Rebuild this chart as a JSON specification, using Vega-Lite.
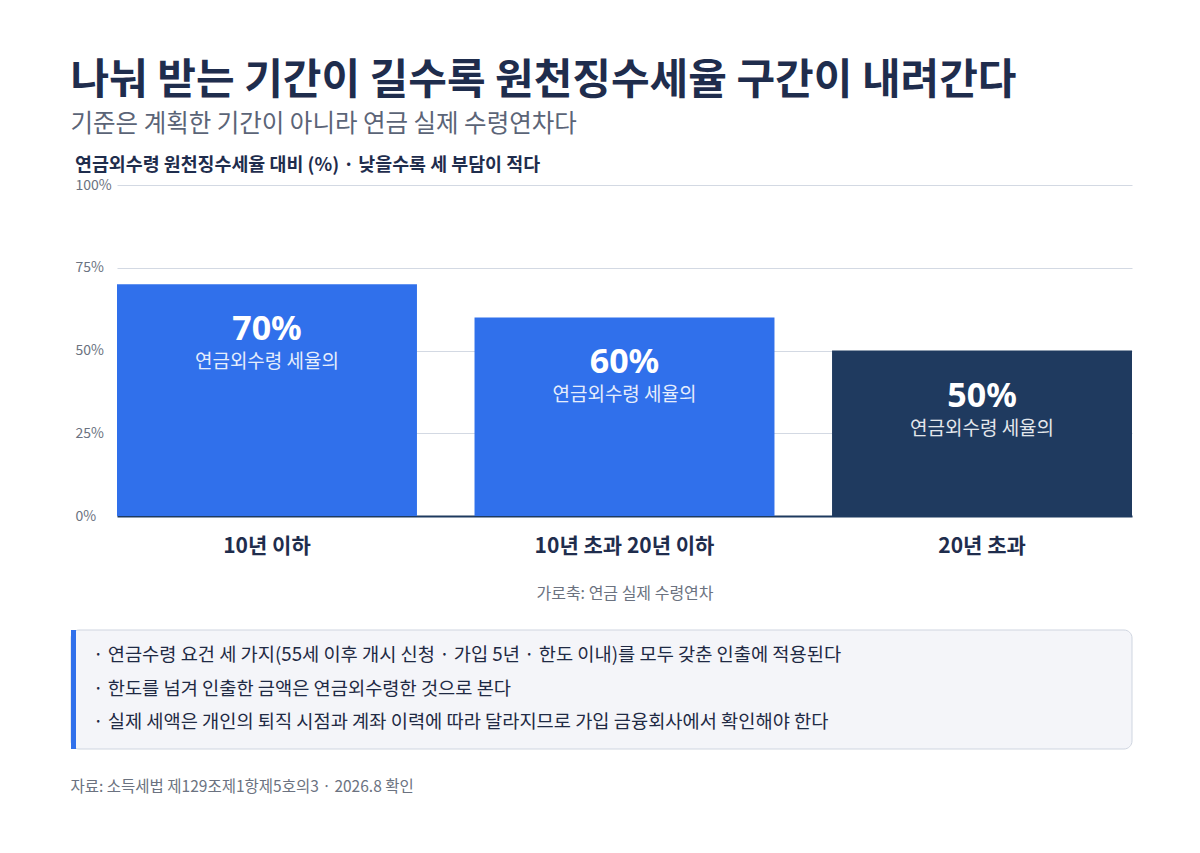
{
  "$schema": "https://vega.github.io/schema/vega-lite/v6.json",
  "background": "white",
  "padding": {"left": 70, "top": 60, "right": 69, "bottom": 10},
  "config": {
    "font": "Noto Sans CJK KR",
    "view": {"stroke": null}
  },
  "title": {
    "text": "나눠 받는 기간이 길수록 원천징수세율 구간이 내려간다",
    "subtitle": "기준은 계획한 기간이 아니라 연금 실제 수령연차다",
    "anchor": "start",
    "frame": "bounds",
    "fontSize": 42,
    "fontWeight": "bold",
    "color": "#1f2d4d",
    "subtitleFont": "Noto Sans CJK KR",
    "subtitleFontSize": 24.5,
    "subtitleColor": "#5b6477",
    "subtitlePadding": 10,
    "offset": 18
  },
  "columns": 1,
  "spacing": 26,
  "concat": [
    {
      "width": 1015,
      "height": 331,
      "title": {
        "text": "연금외수령 원천징수세율 대비 (%) · 낮을수록 세 부담이 적다",
        "anchor": "start",
        "frame": "bounds",
        "fontSize": 18.4,
        "fontWeight": "bold",
        "color": "#1f2d4d",
        "offset": 4
      },
      "data": {
        "values": [
          {"period": "10년 이하", "rate": 70, "label": "70%", "sub": "연금외수령 세율의", "tone": "기본"},
          {"period": "10년 초과 20년 이하", "rate": 60, "label": "60%", "sub": "연금외수령 세율의", "tone": "기본"},
          {"period": "20년 초과", "rate": 50, "label": "50%", "sub": "연금외수령 세율의", "tone": "강조"}
        ]
      },
      "encoding": {
        "x": {
          "field": "period",
          "type": "nominal",
          "sort": null,
          "scale": {"paddingInner": 0.161, "paddingOuter": 0},
          "axis": {
            "title": "가로축: 연금 실제 수령연차",
            "labelAngle": 0,
            "labelFontSize": 21,
            "labelFontWeight": "bold",
            "labelColor": "#1f2d4d",
            "labelPadding": 19,
            "ticks": false,
            "domainColor": "#1e3a5f",
            "domainWidth": 2,
            "titleFontSize": 16,
            "titleFontWeight": "normal",
            "titleColor": "#6b7280",
            "titlePadding": 29
          }
        },
        "y": {
          "field": "rate",
          "type": "quantitative",
          "scale": {"domain": [0, 100]},
          "axis": {
            "title": null,
            "values": [0, 25, 50, 75, 100],
            "labelExpr": "datum.value + '%'",
            "labelAlign": "left",
            "labelPadding": 42,
            "labelFontSize": 14,
            "labelColor": "#6b7280",
            "ticks": false,
            "domain": false,
            "gridColor": "#d3d9e3"
          }
        }
      },
      "layer": [
        {
          "mark": {"type": "bar"},
          "encoding": {
            "color": {
              "field": "tone",
              "type": "nominal",
              "scale": {"domain": ["기본", "강조"], "range": ["#3070eb", "#1f3a5f"]},
              "legend": null
            }
          }
        },
        {
          "mark": {"type": "text", "dy": 46, "font": "Noto Sans", "fontSize": 34, "fontWeight": "bold", "color": "#ffffff", "baseline": "middle"},
          "encoding": {"text": {"field": "label"}}
        },
        {
          "mark": {"type": "text", "dy": 78, "fontSize": 19, "color": "#ffffff", "opacity": 0.88, "baseline": "middle"},
          "encoding": {"text": {"field": "sub"}}
        }
      ]
    },
    {
      "width": 1015,
      "height": 119,
      "title": {
        "text": "자료: 소득세법 제129조제1항제5호의3 · 2026.8 확인",
        "orient": "bottom",
        "anchor": "start",
        "frame": "bounds",
        "fontSize": 15.5,
        "fontWeight": "normal",
        "color": "#6b7280",
        "offset": 28
      },
      "layer": [
        {
          "data": {"values": [{"box_start": -0.0453, "box_end": 1}]},
          "mark": {"type": "rect", "fill": "#f4f5f9", "stroke": "#cfd5e0", "strokeWidth": 1, "cornerRadius": 8},
          "encoding": {
            "x": {"field": "box_start", "type": "quantitative", "scale": {"domain": [0, 1], "nice": false, "zero": false}, "axis": null},
            "x2": {"field": "box_end"}
          }
        },
        {
          "data": {"values": [{"box_start": -0.0453}]},
          "mark": {"type": "rule", "color": "#3070eb", "strokeWidth": 5, "xOffset": 2.5},
          "encoding": {
            "x": {"field": "box_start", "type": "quantitative"}
          }
        },
        {
          "data": {
            "values": [
              {"n": 1, "box_start": -0.0453, "note": "· 연금수령 요건 세 가지(55세 이후 개시 신청 · 가입 5년 · 한도 이내)를 모두 갖춘 인출에 적용된다"},
              {"n": 2, "box_start": -0.0453, "note": "· 한도를 넘겨 인출한 금액은 연금외수령한 것으로 본다"},
              {"n": 3, "box_start": -0.0453, "note": "· 실제 세액은 개인의 퇴직 시점과 계좌 이력에 따라 달라지므로 가입 금융회사에서 확인해야 한다"}
            ]
          },
          "mark": {"type": "text", "align": "left", "baseline": "middle", "fontSize": 18.7, "color": "#1f2a44", "dx": 22, "dy": -1},
          "encoding": {
            "x": {"field": "box_start", "type": "quantitative"},
            "y": {"field": "n", "type": "ordinal", "scale": {"type": "point", "padding": 0.8}, "axis": null},
            "text": {"field": "note"}
          }
        }
      ]
    }
  ]
}
